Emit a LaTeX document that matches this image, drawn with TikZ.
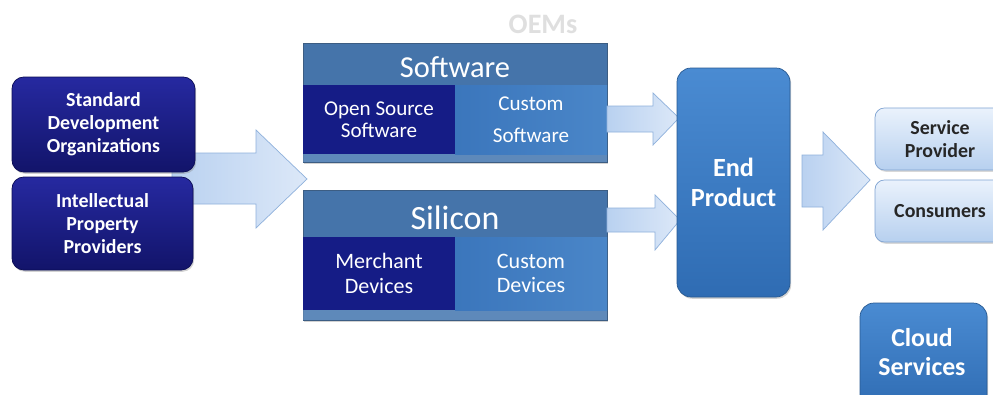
\documentclass[tikz,border=0pt]{standalone}
\usepackage{fontspec}
\setmainfont{Carlito}
\usetikzlibrary{shadows}
\definecolor{navyA}{HTML}{2629A0}
\definecolor{navyB}{HTML}{12146A}
\definecolor{navyEdge}{HTML}{0C0E55}
\definecolor{navyFlat}{HTML}{151C86}
\definecolor{midA}{HTML}{4A8BD2}
\definecolor{midB}{HTML}{2F6CB3}
\definecolor{midEdge}{HTML}{285A92}
\definecolor{bandA}{HTML}{5685BB}
\definecolor{bandB}{HTML}{4574AA}
\definecolor{custA}{HTML}{3B76BC}
\definecolor{custB}{HTML}{4A86C8}
\definecolor{lightA}{HTML}{EAF2FC}
\definecolor{lightB}{HTML}{B7D0EF}
\definecolor{lightEdge}{HTML}{7FA3D2}
\definecolor{arrA}{HTML}{B9D1F0}
\definecolor{arrB}{HTML}{DCE8F8}
\definecolor{arrEdge}{HTML}{8FB1DC}
\tikzset{
  navybox/.style={draw=navyEdge, line width=0.6pt, rounded corners=10pt, top color=navyA, bottom color=navyB,
    text=white, align=center, font=\bfseries\fontsize{17}{19.5}\selectfont, drop shadow={opacity=0.35, shadow xshift=1pt, shadow yshift=-1.5pt}},
  midbox/.style={draw=midEdge, line width=0.6pt, rounded corners=12pt, top color=midA, bottom color=midB,
    text=white, align=center, drop shadow={opacity=0.35, shadow xshift=1pt, shadow yshift=-1.5pt}},
  lightbox/.style={draw=lightEdge, line width=0.6pt, rounded corners=8pt, top color=lightA, bottom color=lightB,
    text=black!85, align=center, font=\bfseries\fontsize{17}{19}\selectfont, drop shadow={opacity=0.3, shadow xshift=1pt, shadow yshift=-1.5pt}},
  outerbox/.style={fill=bandB, draw=bandA!70!black, line width=0.4pt, drop shadow={opacity=0.35, shadow xshift=1pt, shadow yshift=-1.5pt}},
  flatnavy/.style={fill=navyFlat, draw=none, text=white, align=center, inner sep=0pt},
  custbox/.style={left color=custA, right color=custB, draw=none, text=white, align=center, inner sep=0pt},
  blockarrow/.style={left color=arrA, right color=arrB, draw=arrEdge, line width=0.6pt, line join=miter},
  title/.style={text=white, inner sep=0pt}
}
\begin{document}
\begin{tikzpicture}[x=0.03cm, y=-0.03cm]
\clip (0,0) rectangle (993,394);
\fill[white] (0,0) rectangle (993,394);

% OEMs label
\node[text=gray!25, font=\bfseries\fontsize{24}{24}\selectfont, inner sep=0pt] (oems) at (543,24) {OEMs};

% big left arrow
\draw[blockarrow] (172,153) -- (256,153) -- (256,130) -- (307,179) -- (256,228) -- (256,204) -- (172,204) -- cycle;

% left boxes
\node[navybox, minimum width=183*0.03cm, minimum height=95*0.03cm] (sdo) at (103.5,124.5) {Standard\\Development\\Organizations};
\node[navybox, minimum width=181*0.03cm, minimum height=93*0.03cm] (ipp) at (102.5,223.5) {Intellectual\\Property\\Providers};

% Software group
\path[outerbox] (303,43) rectangle (607,162);
\fill[bandA!85!white, opacity=0.6] (303,154) rectangle (607,162);
\node[title, font=\fontsize{26}{26}\selectfont] (swt) at (455,67) {Software};
\node[flatnavy, minimum width=152*0.03cm, minimum height=69*0.03cm, font=\fontsize{18}{18.5}\selectfont] (oss) at (379,119.5) {Open Source\\Software};
\node[custbox, minimum width=152*0.03cm, minimum height=69*0.03cm, font=\fontsize{18}{27}\selectfont] (cs) at (531,119.5) {Custom\\Software};

% Silicon group
\path[outerbox] (303,190) rectangle (607,320);
\fill[bandA!85!white, opacity=0.6] (303,310) rectangle (607,320);
\node[title, font=\fontsize{29}{29}\selectfont] (sit) at (455,218) {Silicon};
\node[flatnavy, minimum width=152*0.03cm, minimum height=73*0.03cm, font=\fontsize{18.8}{21}\selectfont] (md) at (379,273.5) {Merchant\\Devices};
\node[custbox, minimum width=152*0.03cm, minimum height=73*0.03cm, font=\fontsize{18.8}{21}\selectfont] (cd) at (531,273.5) {Custom\\Devices};

% arrows to End Product
\draw[blockarrow] (607,106) -- (653,106) -- (653,93) -- (679,118) -- (653,145) -- (653,132) -- (607,132) -- cycle;
\draw[blockarrow] (607,208) -- (655,208) -- (655,195) -- (680,220) -- (655,250) -- (655,232) -- (607,232) -- cycle;

% End Product
\node[midbox, minimum width=113*0.03cm, minimum height=229*0.03cm, font=\bfseries\fontsize{22.4}{26}\selectfont] (ep) at (733.5,182.5) {End\\Product};

% right arrow
\draw[blockarrow] (802,155) -- (823,155) -- (823,132) -- (870,180) -- (823,230) -- (823,207) -- (802,207) -- cycle;

% right boxes
\node[lightbox, minimum width=130*0.03cm, minimum height=62*0.03cm] (sp) at (940,139) {Service\\Provider};
\node[lightbox, minimum width=130*0.03cm, minimum height=62*0.03cm] (co) at (940,211) {Consumers};

% Cloud Services
\node[midbox, minimum width=127*0.03cm, minimum height=107*0.03cm] (cloud) at (923.5,356.5) {};
\node[text=white, align=center, font=\bfseries\fontsize{22}{25}\selectfont] (cloudt) at (922,352) {Cloud\\Services};
\end{tikzpicture}
\end{document}
